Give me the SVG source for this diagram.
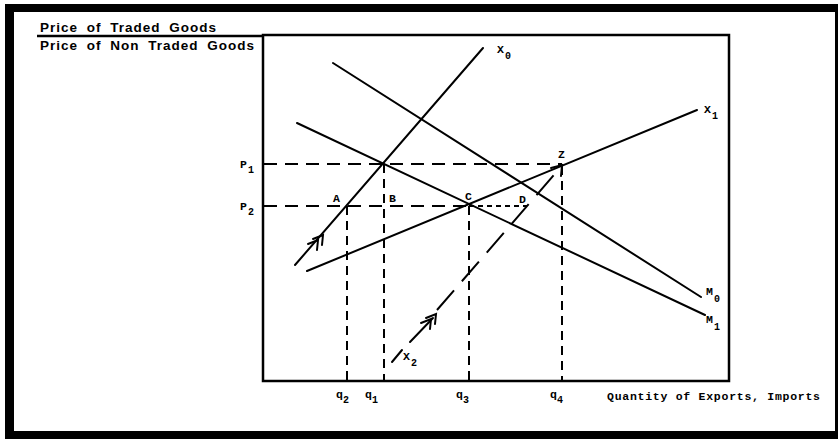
<svg xmlns="http://www.w3.org/2000/svg" width="838" height="439" viewBox="0 0 838 439">
<style>
.ln{stroke:#000;stroke-width:2;fill:none;stroke-linecap:round}
.ax{stroke:#000;stroke-width:2.5;fill:none}
.dh{stroke:#000;stroke-width:2;fill:none;stroke-dasharray:13 8}
.dv{stroke:#000;stroke-width:2;fill:none;stroke-dasharray:9 6}
.dd{stroke:#000;stroke-width:2;fill:none;stroke-dasharray:5 4}
.dx{stroke:#000;stroke-width:2;fill:none;stroke-dasharray:26 12}
.lb{font-family:"Liberation Mono",monospace;font-weight:bold;font-size:11.5px;fill:#000}
.sb{font-family:"Liberation Mono",monospace;font-weight:bold;font-size:10px;fill:#000}
.tt{font-family:"Liberation Sans",Arial,sans-serif;font-weight:bold;font-size:13.5px;letter-spacing:1px;word-spacing:4px;fill:#000}
.ax-t{font-family:"Liberation Mono",monospace;font-size:11.5px;font-weight:bold;fill:#000}
</style>
<rect width="838" height="439" fill="#fff"/>
<g id="frame">
<rect x="5" y="4" width="833" height="8" fill="#000"/>
<rect x="5" y="4" width="9" height="435" fill="#000"/>
<rect x="5" y="431" width="833" height="8" fill="#000"/>
<rect x="835" y="4" width="3" height="435" fill="#000"/>
</g>
<g id="axes">
<line class="ax" x1="37" y1="36" x2="263" y2="36"/>
<rect class="ax" x="263" y="35" width="466" height="346"/>
<text class="tt" x="40" y="32">Price of Traded Goods</text>
<text class="tt" x="40" y="50">Price of Non Traded Goods</text>
<text class="ax-t" x="607" y="400" textLength="213" lengthAdjust="spacing">Quantity of Exports, Imports</text>
</g>
<g id="connectors">
<line class="dh" x1="264" y1="164" x2="562" y2="164"/>
<line class="dh" x1="264" y1="206" x2="469" y2="206"/>
<line class="dd" x1="469" y1="206" x2="527" y2="206"/>
<line class="dv" x1="347" y1="206" x2="347" y2="380"/>
<line class="dv" x1="384" y1="164" x2="384" y2="380"/>
<line class="dv" x1="469" y1="206" x2="469" y2="380"/>
<line class="dv" x1="562" y1="166" x2="562" y2="380"/>
<line class="ln" x1="392" y1="362" x2="402" y2="350"/>
<line class="ln" x1="410" y1="342" x2="433" y2="318"/>
<line class="dx" x1="437" y1="310" x2="560" y2="168"/>
</g>
<g id="curve-X0">
<line class="ln" x1="295" y1="265" x2="483" y2="48"/>
<path class="ln" d="M308,244 L318,240 L317,250 M313,239 L323,235 L322,245"/>
<text class="lb" x="497" y="53">X</text><text class="sb" x="505" y="59">0</text>
</g>
<g id="curve-X1">
<line class="ln" x1="307" y1="271" x2="697" y2="110"/>
<text class="lb" x="704" y="113">X</text><text class="sb" x="712" y="119">1</text>
</g>
<g id="curve-M0">
<line class="ln" x1="333" y1="63" x2="701" y2="297"/>
<text class="lb" x="706" y="295">M</text><text class="sb" x="714" y="302">0</text>
</g>
<g id="curve-M1">
<line class="ln" x1="297" y1="123" x2="705" y2="315"/>
<text class="lb" x="706" y="323">M</text><text class="sb" x="714" y="330">1</text>
</g>
<g id="curve-X2">
<path class="ln" d="M421,323 L431,319 L430,329 M426,318 L436,314 L435,324"/>
<path class="ln" d="M551,168 L562,165 L561,176"/>
<text class="lb" x="403" y="360">X</text><text class="sb" x="411" y="366">2</text>
</g>
<g id="labels">
<text class="lb" x="240" y="168">P</text><text class="sb" x="248" y="173">1</text>
<text class="lb" x="240" y="210">P</text><text class="sb" x="248" y="215">2</text>
<text class="lb" x="333" y="202">A</text>
<text class="lb" x="389" y="202">B</text>
<text class="lb" x="465" y="200">C</text>
<text class="lb" x="519" y="203">D</text>
<text class="lb" x="558" y="158">Z</text>
<text class="lb" x="336" y="398">q</text><text class="sb" x="343" y="403">2</text>
<text class="lb" x="365" y="398">q</text><text class="sb" x="372" y="403">1</text>
<text class="lb" x="456" y="398">q</text><text class="sb" x="463" y="403">3</text>
<text class="lb" x="550" y="398">q</text><text class="sb" x="557" y="403">4</text>
</g>
</svg>
